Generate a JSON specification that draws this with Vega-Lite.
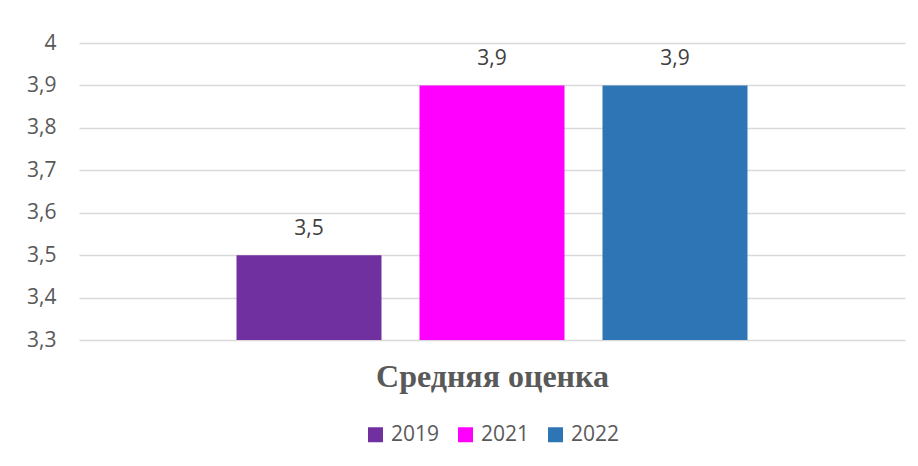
{
  "$schema": "https://vega.github.io/schema/vega-lite/v6.json",
  "width": 826,
  "height": 297,
  "autosize": {"type": "none"},
  "padding": {"left": 79, "top": 43, "right": 13, "bottom": 126},
  "background": "white",
  "config": {
    "view": {"stroke": null},
    "font": "Open Sans",
    "locale": {"number": {"decimal": ",", "thousands": " ", "grouping": [3], "currency": ["", " ₽"]}},
    "legend": {"layout": {"bottom": {"anchor": "middle"}}}
  },
  "data": {
    "values": [
      {"category": "Средняя оценка", "year": "2019", "value": 3.5},
      {"category": "Средняя оценка", "year": "2021", "value": 3.9},
      {"category": "Средняя оценка", "year": "2022", "value": 3.9}
    ]
  },
  "encoding": {
    "x": {
      "field": "year",
      "type": "nominal",
      "scale": {"paddingInner": 0.2077, "paddingOuter": 0.8607},
      "axis": {
        "title": "Средняя оценка",
        "labels": false,
        "ticks": false,
        "domain": false,
        "titleFont": "Liberation Serif",
        "titleFontWeight": "bold",
        "titleFontSize": 32,
        "titleColor": "#595959",
        "titlePadding": 21
      }
    },
    "y": {
      "field": "value",
      "type": "quantitative",
      "scale": {"domain": [3.3, 4], "zero": false, "clamp": true},
      "axis": {
        "title": null,
        "values": [3.3, 3.4, 3.5, 3.6, 3.7, 3.8, 3.9, 4],
        "format": ".2~g",
        "labelFontSize": 21,
        "labelColor": "#595959",
        "labelPadding": 23,
        "ticks": false,
        "domain": false,
        "gridColor": "#d9d9d9",
        "gridWidth": 1.3
      }
    }
  },
  "layer": [
    {
      "mark": {"type": "bar"},
      "encoding": {
        "y2": {"datum": 3.3},
        "color": {
          "field": "year",
          "type": "nominal",
          "scale": {"domain": ["2019", "2021", "2022"], "range": ["#7030A0", "#FF00FF", "#2E75B6"]},
          "legend": {
            "title": null,
            "orient": "bottom",
            "direction": "horizontal",
            "symbolType": "square",
            "symbolSize": 225,
            "symbolStrokeWidth": 0,
            "labelFontSize": 21,
            "labelColor": "#595959",
            "columnPadding": 15,
            "labelOffset": 5,
            "offset": 32
          }
        }
      }
    },
    {
      "mark": {"type": "text", "dy": -26, "fontSize": 21, "color": "#404040"},
      "encoding": {
        "text": {"field": "value", "type": "quantitative", "format": ".1f"}
      }
    }
  ]
}
